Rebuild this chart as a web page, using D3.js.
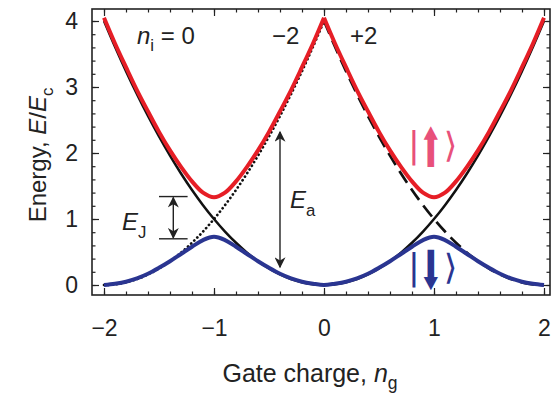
<!DOCTYPE html>
<html>
<head>
<meta charset="utf-8">
<script src="https://cdn.jsdelivr.net/npm/d3@7"></script>
<style>
  body { margin: 0; background: #fff; }
  svg { display: block; font-family: "Liberation Sans", Arial, sans-serif; }
</style>
</head>
<body>
<div id="chart"></div>
<script>
// gate charge samples
const ng = [-2.0, -1.9, -1.8, -1.7, -1.6, -1.5, -1.4, -1.3, -1.2, -1.1, -1.0,
            -0.9, -0.8, -0.7, -0.6, -0.5, -0.4, -0.3, -0.2, -0.1, 0.0,
             0.1,  0.2,  0.3,  0.4,  0.5,  0.6,  0.7,  0.8,  0.9, 1.0,
             1.1,  1.2,  1.3,  1.4,  1.5,  1.6,  1.7,  1.8,  1.9, 2.0];

// upper band |up> (red)
const upper = [4.05, 3.66, 3.30, 2.95, 2.63, 2.32, 2.04, 1.79, 1.57, 1.40, 1.33,
               1.40, 1.57, 1.79, 2.04, 2.32, 2.63, 2.95, 3.30, 3.66, 4.05,
               3.66, 3.30, 2.95, 2.63, 2.32, 2.04, 1.79, 1.57, 1.40, 1.33,
               1.40, 1.57, 1.79, 2.04, 2.32, 2.63, 2.95, 3.30, 3.66, 4.05];

// lower band |down> (blue)
const lower = [0.00, 0.02, 0.05, 0.10, 0.17, 0.26, 0.36, 0.47, 0.58, 0.68, 0.73,
               0.68, 0.58, 0.47, 0.36, 0.26, 0.17, 0.10, 0.05, 0.02, 0.00,
               0.02, 0.05, 0.10, 0.17, 0.26, 0.36, 0.47, 0.58, 0.68, 0.73,
               0.68, 0.58, 0.47, 0.36, 0.26, 0.17, 0.10, 0.05, 0.02, 0.00];

// charge parabolas, n_i = 0 (solid), -2 (dotted), +2 (dashed)
const charge0 = [4.00, 3.61, 3.24, 2.89, 2.56, 2.25, 1.96, 1.69, 1.44, 1.21, 1.00,
                 0.81, 0.64, 0.49, 0.36, 0.25, 0.16, 0.09, 0.04, 0.01, 0.00,
                 0.01, 0.04, 0.09, 0.16, 0.25, 0.36, 0.49, 0.64, 0.81, 1.00,
                 1.21, 1.44, 1.69, 1.96, 2.25, 2.56, 2.89, 3.24, 3.61, 4.00];
const chargeM2 = [0.00, 0.01, 0.04, 0.09, 0.16, 0.25, 0.36, 0.49, 0.64, 0.81, 1.00,
                  1.21, 1.44, 1.69, 1.96, 2.25, 2.56, 2.89, 3.24, 3.61, 4.00];
const chargeP2 = [4.00, 3.61, 3.24, 2.89, 2.56, 2.25, 1.96, 1.69, 1.44, 1.21, 1.00,
                  0.81, 0.64, 0.49, 0.36, 0.25, 0.16, 0.09, 0.04, 0.01, 0.00];

const xTicks = [-2, -1, 0, 1, 2];
const yTicks = [0, 1, 2, 3, 4];

const width = 554, height = 394;
const frame = {left: 92, right: 550, top: 9, bottom: 295};

const svg = d3.select("#chart").append("svg")
  .attr("width", width)
  .attr("height", height);

const x = d3.scaleLinear().domain([-2, 2]).range([104, 544]);
const y = d3.scaleLinear().domain([0, 4]).range([285, 21]);

const minorX = d3.range(-2.2, 2.11, 0.2).filter(v => x(v) > frame.left + 1 && x(v) < frame.right - 1);
const minorY = d3.range(-0.2, 4.21, 0.2).filter(v => y(v) < frame.bottom - 1 && y(v) > frame.top + 1);

// axes, ticks pointing inward on all four sides
function addAxis(axis, tx, ty, labels) {
  const g = svg.append("g").attr("transform", `translate(${tx},${ty})`).call(axis);
  g.select(".domain").remove();
  g.selectAll("line").attr("stroke", "#222").attr("stroke-width", 1.2);
  if (!labels) g.selectAll("text").remove();
  return g;
}
const fmt = d3.format("d");
const xb = addAxis(d3.axisBottom(x).tickValues(xTicks).tickSize(-7).tickPadding(25).tickFormat(fmt), 0, frame.bottom, true);
addAxis(d3.axisBottom(x).tickValues(minorX).tickSize(-3.5).tickFormat(""), 0, frame.bottom, false);
addAxis(d3.axisTop(x).tickValues(xTicks).tickSize(-7), 0, frame.top, false);
addAxis(d3.axisTop(x).tickValues(minorX).tickSize(-3.5), 0, frame.top, false);
const yl = addAxis(d3.axisLeft(y).tickValues(yTicks).tickSize(-7).tickPadding(14).tickFormat(fmt), frame.left, 0, true);
addAxis(d3.axisLeft(y).tickValues(minorY).tickSize(-3.5).tickFormat(""), frame.left, 0, false);
addAxis(d3.axisRight(y).tickValues(yTicks).tickSize(-7), frame.right, 0, false);
addAxis(d3.axisRight(y).tickValues(minorY).tickSize(-3.5), frame.right, 0, false);

[xb, yl].forEach(g => g.selectAll("text")
  .attr("font-size", 23)
  .attr("fill", "#222")
  .attr("font-family", "Liberation Sans, Arial, sans-serif"));

svg.append("rect")
  .attr("x", frame.left).attr("y", frame.top)
  .attr("width", frame.right - frame.left)
  .attr("height", frame.bottom - frame.top)
  .attr("fill", "none")
  .attr("stroke", "#222")
  .attr("stroke-width", 1.6);

// curves
const line = d3.line()
  .x(d => x(d[0]))
  .y(d => y(d[1]))
  .curve(d3.curveCatmullRom);

const zip = (xs, ys) => ys.map((v, i) => [xs[i], v]);
const leftNg = ng.slice(0, 21), rightNg = ng.slice(20);

const plot = svg.append("g");

plot.append("path").datum(zip(ng, charge0))
  .attr("d", line).attr("fill", "none")
  .attr("stroke", "#111").attr("stroke-width", 2.5);
plot.append("path").datum(zip(leftNg, chargeM2))
  .attr("d", line).attr("fill", "none")
  .attr("stroke", "#111").attr("stroke-width", 2.7)
  .attr("stroke-linecap", "round").attr("stroke-dasharray", "0.1 4.2");
plot.append("path").datum(zip(rightNg, chargeP2))
  .attr("d", line).attr("fill", "none")
  .attr("stroke", "#111").attr("stroke-width", 2.7)
  .attr("stroke-dasharray", "14 7");

// upper band has a cusp at ng = 0, so draw its two halves separately
[zip(leftNg, upper.slice(0, 21)), zip(rightNg, upper.slice(20))].forEach(seg => {
  plot.append("path").datum(seg)
    .attr("d", line).attr("fill", "none")
    .attr("stroke", "#e61e26").attr("stroke-width", 4)
    .attr("stroke-linejoin", "round");
});
plot.append("path").datum(zip(ng, lower))
  .attr("d", line).attr("fill", "none")
  .attr("stroke", "#2a3591").attr("stroke-width", 4);

// arrow heads
svg.append("defs").append("marker")
  .attr("id", "head")
  .attr("viewBox", "0 0 10 10")
  .attr("refX", 9).attr("refY", 5)
  .attr("markerWidth", 13).attr("markerHeight", 11)
  .attr("markerUnits", "userSpaceOnUse")
  .attr("orient", "auto-start-reverse")
  .append("path").attr("d", "M0,0 L10,5 L0,10 L3,5 Z").attr("fill", "#222");

// E_a arrow
const eaX = -0.4, eaTop = 2.32, eaBottom = 0.27;
svg.append("line")
  .attr("x1", x(eaX)).attr("x2", x(eaX))
  .attr("y1", y(eaTop)).attr("y2", y(eaBottom))
  .attr("stroke", "#222").attr("stroke-width", 1.4)
  .attr("marker-start", "url(#head)").attr("marker-end", "url(#head)");

// E_J bracket
const ejX = -1.37, ejLeft = -1.5, ejRight = -1.24, ejTop = 1.34, ejBottom = 0.70;
[ejTop, ejBottom].forEach(v => svg.append("line")
  .attr("x1", x(ejLeft)).attr("x2", x(ejRight))
  .attr("y1", y(v)).attr("y2", y(v))
  .attr("stroke", "#222").attr("stroke-width", 1.4));
svg.append("line")
  .attr("x1", x(ejX)).attr("x2", x(ejX))
  .attr("y1", y(ejTop) + 1).attr("y2", y(ejBottom) - 1)
  .attr("stroke", "#222").attr("stroke-width", 1.4)
  .attr("marker-start", "url(#head)").attr("marker-end", "url(#head)");

// text labels
function label(tx, ty, parts, size, color) {
  const t = svg.append("text").attr("x", tx).attr("y", ty)
    .attr("font-size", size).attr("fill", color || "#222");
  parts.forEach(p => {
    const s = t.append("tspan").text(p.text);
    if (p.italic) s.attr("font-style", "italic");
    if (p.sub) s.attr("font-size", size * 0.7).attr("dy", p.sub);
    if (p.dy) s.attr("dy", p.dy);
  });
  return t;
}

label(137, 44, [{text: "n", italic: true}, {text: "i", sub: 7}, {text: " = 0", dy: -7}], 24);
label(272, 44, [{text: "\u22122"}], 24);
label(350, 44, [{text: "+2"}], 24);
label(290, 208, [{text: "E", italic: true}, {text: "a", sub: 8}], 24);
label(122, 230, [{text: "E", italic: true}, {text: "J", sub: 8}], 24);

// kets: bar, squeezed block arrow, angle bracket in one text
function ket(x0, base, arrow, color) {
  const t = svg.append("text").attr("x", x0).attr("y", base)
    .attr("fill", color)
    .attr("font-family", "DejaVu Sans, sans-serif");
  t.append("tspan").attr("font-size", 35).text("|");
  t.append("tspan").attr("font-size", 54).attr("dy", 10).attr("dx", -1)
    .attr("textLength", 24).attr("lengthAdjust", "spacingAndGlyphs")
    .text(arrow);
  t.append("tspan").attr("font-size", 35).attr("dy", -10).attr("dx", 1).text("\u27E9");
}
ket(408, 157, "\u2B06", "#e8507a");
ket(408, 279, "\u2B07", "#2a3591");

// axis titles
label(310, 382, [{text: "Gate charge, "}, {text: "n", italic: true}, {text: "g", sub: 7}], 25)
  .attr("text-anchor", "middle");
label(0, 0, [{text: "Energy, "}, {text: "E", italic: true}, {text: "/"}, {text: "E", italic: true}, {text: "c", sub: 7}], 24)
  .attr("text-anchor", "middle")
  .attr("transform", "translate(46,155) rotate(-90)");
</script>
</body>
</html>
